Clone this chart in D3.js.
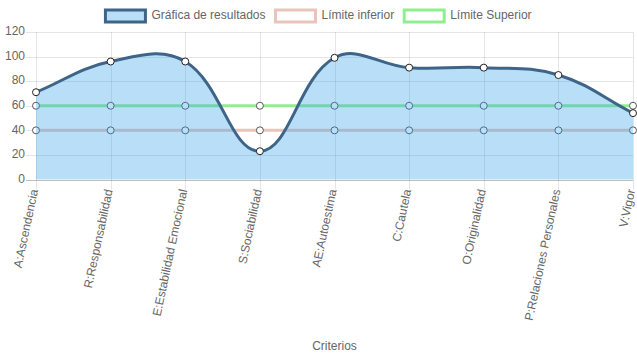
<!DOCTYPE html>
<html>
<head>
<meta charset="utf-8">
<script src="https://cdn.jsdelivr.net/npm/d3@7"></script>
<style>
  html, body { margin: 0; padding: 0; background: #fff; }
  svg { display: block; font-family: "Helvetica Neue", Helvetica, Arial, "Liberation Sans", sans-serif; }
</style>
</head>
<body>
<svg id="chart" width="637" height="359"></svg>
<script>
const categories = ["A:Ascendencia", "R:Responsabilidad", "E:Estabilidad Emocional", "S:Sociabilidad",
  "AE:Autoestima", "C:Cautela", "O:Originalidad", "P:Relaciones Personales", "V:Vigor"];
const resultados = [71, 96, 96, 23, 99, 91, 91, 85, 54];
const limiteInferior = [40, 40, 40, 40, 40, 40, 40, 40, 40];
const limiteSuperior = [60, 60, 60, 60, 60, 60, 60, 60, 60];
const yTicks = [0, 20, 40, 60, 80, 100, 120];
const legendLabels = ["Gráfica de resultados", "Límite inferior", "Límite Superior"];
const xTitle = "Criterios";

const W = 637, H = 359;
const area = { left: 36, right: 633, top: 32, bottom: 179.5 };
const svg = d3.select("#chart");

const x = d3.scalePoint().domain(categories).range([area.left, area.right]);
const y = d3.scaleLinear().domain([0, 120]).range([area.bottom, area.top]);

const textColor = "#666";
const gridColor = "rgba(0,0,0,0.1)";

// grid lines (horizontal)
const gGrid = svg.append("g");
yTicks.forEach(t => {
  gGrid.append("line")
    .attr("x1", area.left - 10).attr("x2", area.right)
    .attr("y1", Math.round(y(t)) + 0.5).attr("y2", Math.round(y(t)) + 0.5)
    .attr("stroke", t === 0 ? "rgba(0,0,0,0.25)" : gridColor)
    .attr("stroke-width", 1);
});
// vertical grid lines
categories.forEach(c => {
  gGrid.append("line")
    .attr("x1", Math.round(x(c)) + 0.5).attr("x2", Math.round(x(c)) + 0.5)
    .attr("y1", area.top).attr("y2", area.bottom + 10)
    .attr("stroke", gridColor);
});

// y tick labels
yTicks.forEach(t => {
  svg.append("text")
    .attr("x", area.left - 11).attr("y", y(t))
    .attr("text-anchor", "end").attr("dominant-baseline", "middle")
    .attr("font-size", 12).attr("fill", textColor)
    .text(t);
});

// x tick labels rotated
categories.forEach(c => {
  svg.append("text")
    .attr("transform", `translate(${x(c) - 1},${area.bottom + 10}) rotate(-78)`)
    .attr("text-anchor", "end").attr("dominant-baseline", "middle")
    .attr("font-size", 12).attr("fill", textColor)
    .text(c);
});

// axis title
svg.append("text")
  .attr("x", (area.left + area.right) / 2).attr("y", 347)
  .attr("text-anchor", "middle").attr("dominant-baseline", "middle")
  .attr("font-size", 12).attr("fill", textColor)
  .text(xTitle);

// Chart.js style spline
function splinePath(values, tension) {
  const pts = values.map((v, i) => ({ x: x(categories[i]), y: y(v) }));
  pts.forEach((cur, i) => {
    const prev = pts[i - 1] || cur, next = pts[i + 1] || cur;
    const d01 = Math.hypot(cur.x - prev.x, cur.y - prev.y);
    const d12 = Math.hypot(next.x - cur.x, next.y - cur.y);
    let s01 = d01 / (d01 + d12), s12 = d12 / (d01 + d12);
    if (isNaN(s01)) s01 = 0; if (isNaN(s12)) s12 = 0;
    const fa = tension * s01, fb = tension * s12;
    const clampX = v => Math.max(area.left, Math.min(area.right, v));
    const clampY = v => Math.max(area.top, Math.min(area.bottom, v));
    cur.cpPrev = { x: clampX(cur.x - fa * (next.x - prev.x)), y: clampY(cur.y - fa * (next.y - prev.y)) };
    cur.cpNext = { x: clampX(cur.x + fb * (next.x - prev.x)), y: clampY(cur.y + fb * (next.y - prev.y)) };
  });
  const p = d3.path();
  p.moveTo(pts[0].x, pts[0].y);
  for (let i = 1; i < pts.length; i++) {
    const a = pts[i - 1], b = pts[i];
    p.bezierCurveTo(a.cpNext.x, a.cpNext.y, b.cpPrev.x, b.cpPrev.y, b.x, b.y);
  }
  return { d: p.toString(), pts };
}

const superiorColor = "#90ee90";
const inferiorColor = "#e7c6b9";
const resultsLine = "#3e6487";
const resultsFill = "rgba(54,162,235,0.35)";

// limit lines (drawn beneath results fill)
[[limiteSuperior, superiorColor], [limiteInferior, inferiorColor]].forEach(([vals, col]) => {
  const s = splinePath(vals, 0.4);
  svg.append("path").attr("d", s.d).attr("fill", "none").attr("stroke", col).attr("stroke-width", 3);
});
[limiteSuperior, limiteInferior].forEach(vals => {
  svg.append("g").selectAll("circle").data(vals).join("circle")
    .attr("cx", (d, i) => x(categories[i])).attr("cy", d => y(d)).attr("r", 3.5)
    .attr("fill", "#fff").attr("stroke", "#555").attr("stroke-width", 1);
});

// results fill + line
const res = splinePath(resultados, 0.4);
svg.append("path")
  .attr("d", res.d + `L${x(categories[categories.length - 1])},${y(0)}L${x(categories[0])},${y(0)}Z`)
  .attr("fill", resultsFill).attr("stroke", "none");
svg.append("path").attr("d", res.d).attr("fill", "none")
  .attr("stroke", resultsLine).attr("stroke-width", 3);
svg.append("g").selectAll("circle").data(resultados).join("circle")
  .attr("cx", (d, i) => x(categories[i])).attr("cy", d => y(d)).attr("r", 3.5)
  .attr("fill", "#fff").attr("stroke", "#222").attr("stroke-width", 1);

// legend
const legendItems = [
  { label: legendLabels[0], fill: resultsFill, stroke: resultsLine },
  { label: legendLabels[1], fill: "rgba(255,255,255,0.3)", stroke: inferiorColor },
  { label: legendLabels[2], fill: "rgba(255,255,255,0.3)", stroke: superiorColor }
];
const gLeg = svg.append("g");
const widths = legendItems.map(it => {
  const t = gLeg.append("text").attr("font-size", 12).text(it.label);
  const w = t.node().getComputedTextLength();
  t.remove();
  return 40 + 6 + w;
});
const total = d3.sum(widths) + 10 * (widths.length - 1);
let cx = (W - total) / 2;
legendItems.forEach((it, i) => {
  gLeg.append("rect").attr("x", cx).attr("y", 10).attr("width", 40).attr("height", 12)
    .attr("fill", it.fill).attr("stroke", it.stroke).attr("stroke-width", 3);
  gLeg.append("text").attr("x", cx + 46).attr("y", 16)
    .attr("dominant-baseline", "middle").attr("font-size", 12).attr("fill", textColor)
    .text(it.label);
  cx += widths[i] + 10;
});
</script>
</body>
</html>
